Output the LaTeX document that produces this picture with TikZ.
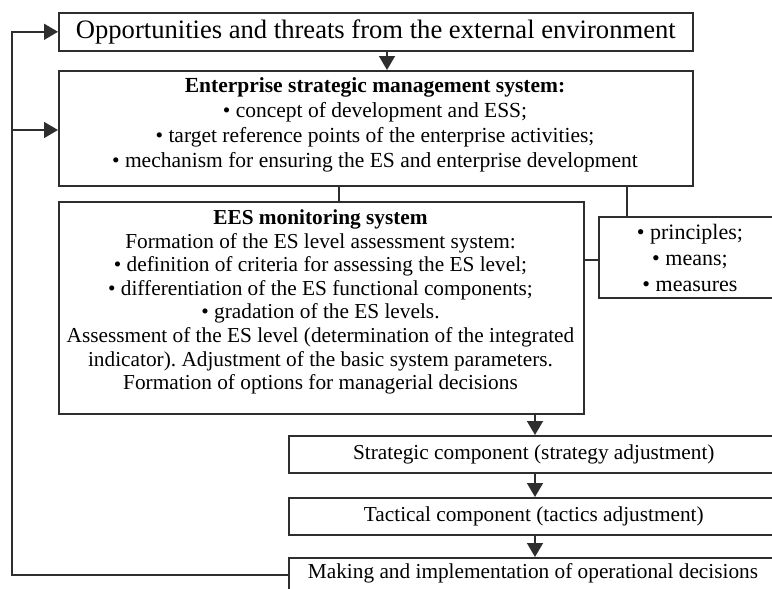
\documentclass[tikz,border=0pt]{standalone}
\usepackage{fontspec}
\setmainfont{Liberation Serif}
\usetikzlibrary{arrows.meta}
\definecolor{ln}{HTML}{2E2E2E}
\frenchspacing
\tikzset{
  box/.style={draw=ln, line width=1.6pt, anchor=north west, align=center, inner sep=0pt},
  conn/.style={draw=ln, line width=1.6pt},
  arr/.style={conn, -{Triangle[width=16pt,length=14pt]}},
  txt/.style={align=center, inner sep=0pt, anchor=center},
  big/.style={font=\fontsize{26.6}{30}\selectfont},
  txa/.style={font=\fontsize{21.5}{25}\selectfont},
  txb/.style={font=\fontsize{21.3}{23.6}\selectfont},
  txc/.style={font=\fontsize{22}{26}\selectfont},
}
\begin{document}
\begin{tikzpicture}[x=1pt,y=-1pt]
\useasboundingbox (0,0) rectangle (772,589);
\node[box,big,minimum width=634pt,minimum height=38pt] (b1) at (58,12) {Opportunities and threats from the external environment};
\node[box,minimum width=634pt,minimum height=115pt] (b2) at (58,70) {};
\node[txt,txa] (b2t) at (375,125) {\textbf{Enterprise strategic management system:}\\
\textbullet{} concept of development and ESS;\\
\textbullet{} target reference points of the enterprise activities;\\
\textbullet{} mechanism for ensuring the ES and enterprise development};
\node[box,minimum width=525pt,minimum height=212pt] (b3) at (58,201) {};
\node[txt,txb] (b3t) at (320.5,302) {\textbf{EES monitoring system}\\
Formation of the ES level assessment system:\\
\textbullet{} definition of criteria for assessing the ES level;\\
\textbullet{} differentiation of the ES functional components;\\
\textbullet{} gradation of the ES levels.\\
Assessment of the ES level (determination of the integrated\\
indicator). Adjustment of the basic system parameters.\\
Formation of options for managerial decisions};
\node[box,minimum width=182pt,minimum height=81pt] (pr) at (598,216) {};
\node[txt,txc] (prt) at (690,258) {\textbullet{} principles;\\ \textbullet{} means;\\ \textbullet{} measures};
\node[box,txb,minimum width=490pt,minimum height=37pt] (st) at (288,435) {Strategic component (strategy adjustment)};
\node[box,txb,minimum width=490pt,minimum height=37pt] (ta) at (288,497) {Tactical component (tactics adjustment)};
\node[box,minimum width=490pt,minimum height=40pt] (mk) at (288,557) {};
\node[txt,txb] (mkt) at (533,573) {Making and implementation of operational decisions};
\coordinate (xa) at (387,0);
\coordinate (xb) at (339,0);
\coordinate (xc) at (627,0);
\coordinate (xd) at (535,0);
\coordinate (yc) at (0,260);
\coordinate (fb) at (12,575);
\coordinate (fb2) at (12,130);
\draw[arr] (b1.south -| xa) -- (b2.north -| xa);
\draw[conn] (b2.south -| xb) -- (b3.north -| xb);
\draw[conn] (b2.south -| xc) -- (pr.north -| xc);
\draw[conn] (b3.east |- yc) -- (pr.west |- yc);
\draw[arr] (b3.south -| xd) -- (st.north -| xd);
\draw[arr] (st.south -| xd) -- (ta.north -| xd);
\draw[arr] (ta.south -| xd) -- (mk.north -| xd);
\draw[arr] (mk.west |- fb) -- (fb) |- (b1.west);
\draw[arr] (fb2) -- (b2.west |- fb2);
\end{tikzpicture}
\end{document}
